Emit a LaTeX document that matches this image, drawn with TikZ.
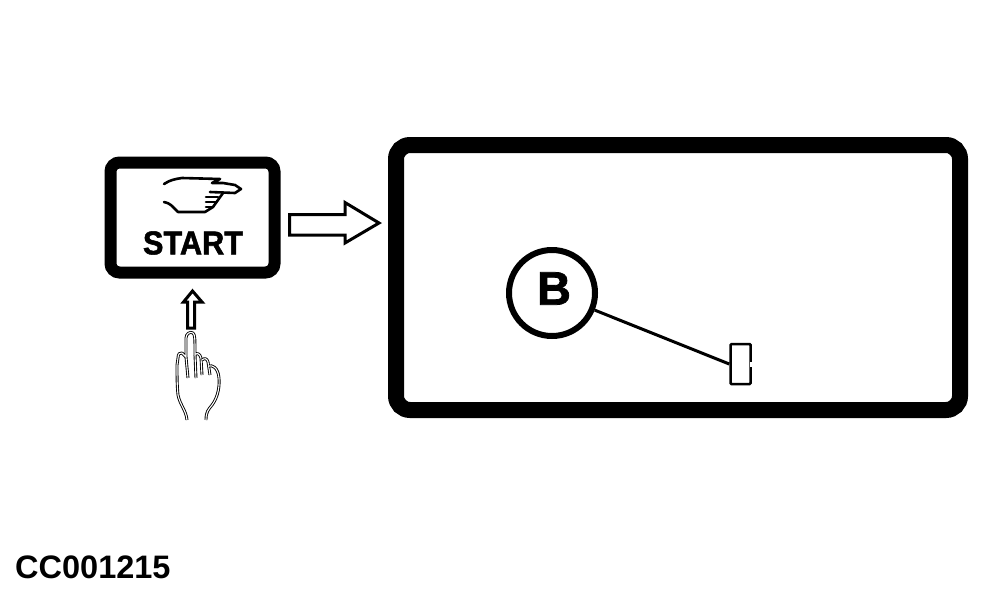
\documentclass[tikz,border=0pt]{standalone}
\usepackage{fontspec}
\setmainfont{Liberation Sans}
\newfontfamily\heavyfont[FakeBold=1.6]{Liberation Sans Bold}
\usepackage{tikz}
\usetikzlibrary{shapes.geometric}

\tikzset{
  panel/.style={draw,rounded corners=#1,inner sep=0pt},
  hollowarrow/.style={draw,line width=3pt,line join=miter,fill=white},
  skin/.style={draw=black,double=white,line width=0.9pt,double distance=1.1pt,line join=round},
  inkline/.style={line width=2.6pt,line cap=round,line join=round}
}

\begin{document}
\begin{tikzpicture}[x=1pt,y=-1pt]

\useasboundingbox (0,0) rectangle (992,589);

% panels
\node (startbox) [panel=9pt,line width=12pt,minimum width=164pt,minimum height=110pt] at (192.5,217.5) {};
\node (screen) [panel=14pt,line width=16pt,minimum width=564pt,minimum height=265pt] at (678,277.5) {};

\node (starttext) [xscale=0.93,font=\fontsize{33}{33}\heavyfont] at (193,243) {START};
\node (code) [anchor=west,inner sep=0pt] at (15,567) {\fontsize{32.5}{32.5}\selectfont\bfseries CC001215};

% callout
\node (circB) [circle,draw,line width=6pt,minimum size=86pt,inner sep=0pt,font=\fontsize{47}{47}\heavyfont] at (552,293) {\raisebox{9pt}{\hspace{4pt}B}};
\node (tab) [draw,line width=2.5pt,rounded corners=1pt,minimum width=20pt,minimum height=40pt,inner sep=0pt] at (740.5,364) {};
\draw [line width=3pt] (circB) -- (tab.west);
\draw [white,line width=3pt] (tab.east) ++(0,-2) -- ++(0,5);

% arrow to the screen
\draw [hollowarrow] (289.5,214.5) -- (345,214.5) -- (345,202.5) -- (379,223) -- (345,243) -- (345,235) -- (289.5,235) -- cycle;

% arrow to the button
\draw [hollowarrow] (192.5,291) -- (202,302) -- (194.5,302) -- (194.5,328) -- (187.5,328) -- (187.5,302) -- (183.5,302) -- cycle;

% pointing hand on the button
\draw [inkline] (164,184) .. controls (170,180) and (175,179) .. (182,178) -- (220,179) -- (212,183) -- (223,183) -- (235,185) -- (241,189) -- (235,193) -- (210,192);
\draw [inkline] (164,202) .. controls (170,203) and (172,206) .. (178,212) -- (205,212) -- (213,207) -- (223,193);
\foreach \i/\j in {197/218,202/216,207/213}
    \draw [inkline] (206,\i) -- (\j,\i);

% raised hand
\draw [skin] (187,420) .. controls (186,410) and (180,405) .. (178,395) .. controls (177,385) and (177,375) .. (177,365) -- (178,358) .. controls (178,354) and (180,352) .. (182,353) -- (186,357) -- (186,338) .. controls (186,334) and (190,331) .. (193,333) .. controls (195,335) and (195,338) .. (195,355) .. controls (197,352) and (200,354) .. (201,358) -- (202,375) ;
\draw [skin] (186,357) -- (188,378);
\draw [skin] (195,355) -- (196,378);
\draw [skin] (202,360) .. controls (204,358) and (207,358) .. (208,362) -- (210,375);
\draw [skin] (209,366) .. controls (212,365) and (218,367) .. (219,378) .. controls (220,390) and (216,400) .. (212,405) .. controls (208,410) and (206,412) .. (206,420);

\end{tikzpicture}
\end{document}
